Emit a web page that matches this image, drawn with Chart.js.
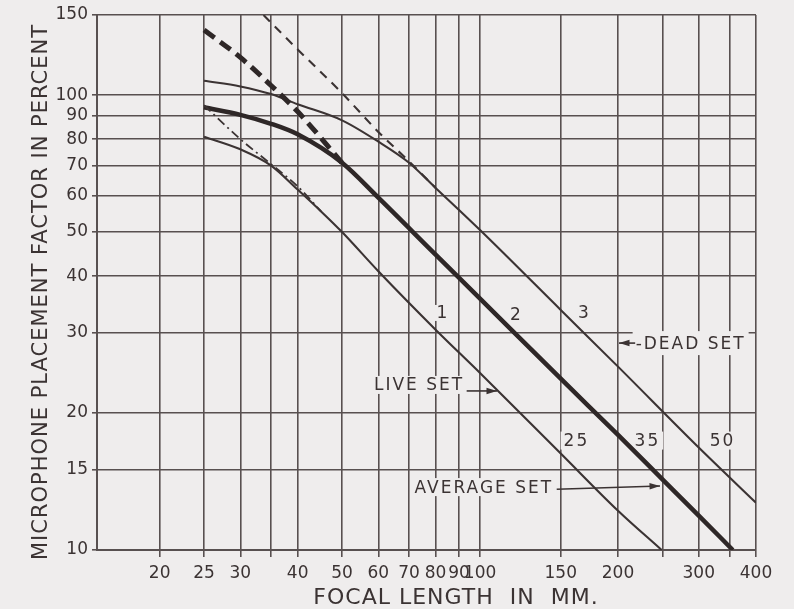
<!DOCTYPE html>
<html>
<head>
<meta charset="utf-8">
<script src="https://cdn.jsdelivr.net/npm/chart.js@4/dist/chart.umd.min.js"></script>
<style>
  html, body { margin: 0; padding: 0; background: #efeded; }
  canvas { display: block; }
</style>
</head>
<body>
<canvas id="chart" width="794" height="609"></canvas>
<script>
// grid / tick values
const xTicks = [20, 25, 30, 35, 40, 50, 60, 70, 80, 90, 100, 150, 200, 250, 300, 350, 400];
const xLabeled = [20, 25, 30, 40, 50, 60, 70, 80, 90, 100, 150, 200, 300, 400];
const yTicks = [10, 15, 20, 30, 40, 50, 60, 70, 80, 90, 100, 150];

// curve 1 - live set
const liveFocal = [25, 30, 35, 40, 45, 50, 60, 80, 100, 150, 200, 249];
const liveFactor = [81, 76, 70, 62, 55.5, 50, 41, 30.5, 24.5, 16.3, 12.2, 10];
const liveGuideFocal = [25, 30, 35, 40, 45];
const liveGuideFactor = [95, 80, 70.5, 63, 55.5];

// curve 2 - average set
const avgFocal = [25, 30, 35, 40, 50, 60, 80, 100, 150, 200, 250, 300, 356];
const avgFactor = [94, 90.5, 86.5, 82, 71, 59.5, 44.6, 35.7, 23.8, 17.9, 14.3, 11.9, 10];
const avgGuideFocal = [25, 30, 35, 40, 50];
const avgGuideFactor = [139, 121, 105, 92, 71];

// curve 3 - dead set
const deadFocal = [25, 30, 35, 40, 50, 60, 70, 80, 100, 150, 200, 300, 400];
const deadFactor = [107.5, 104.5, 100.5, 95.5, 88, 79, 71, 62.5, 50.5, 33.7, 25.3, 16.8, 12.7];
const deadGuideFocal = [33.7, 40, 50, 60, 70, 80];
const deadGuideFactor = [150, 126, 101, 83, 71.5, 62.5];

const bg = '#efeded';
const ink = '#3b3333';
const gridInk = '#585050';
const fontFam = '"DejaVu Sans", sans-serif';

function pts(xs, ys) {
  return xs.map((v, i) => ({ x: v, y: ys[i] }));
}

// text written on the sheet, anchored in data units
const notes = [
  { text: '1', at: [83, 33.2], align: 'center', size: 17, pad: [2, 8] },
  { text: '2', at: [120, 32.9], align: 'center', size: 17, pad: [2, 8] },
  { text: '3', at: [169, 33.2], align: 'center', size: 17, pad: [2, 8] },
  { text: '-DEAD SET', at: [218.5, 28.5], align: 'left', size: 17, pad: [3, 12] },
  { text: 'LIVE SET', at: [92.3, 23.06], align: 'right', size: 17, pad: [3, 9] },
  { text: 'AVERAGE SET', at: [144.4, 13.75], align: 'right', size: 17, pad: [3, 9] },
  { text: '25', at: [162.3, 17.4], align: 'center', size: 17, pad: [3, 9] },
  { text: '35', at: [231.8, 17.4], align: 'center', size: 17, pad: [3, 9] },
  { text: '50', at: [338, 17.4], align: 'center', size: 17, pad: [3, 9] }
];
// arrows: from, to (data units)
const arrows = [
  { from: [218, 28.5], to: [201, 28.5] },
  { from: [93.5, 22.37], to: [108.9, 22.37] },
  { from: [147, 13.6], to: [247, 13.83] }
];

function noteBox(c, n, xs, ys) {
  c.font = n.size + 'px ' + fontFam;
  c.letterSpacing = '2px';
  const w = c.measureText(n.text).width;
  const px = xs.getPixelForValue(n.at[0]);
  const py = ys.getPixelForValue(n.at[1]);
  let left = px - w / 2;
  if (n.align === 'left') left = px;
  if (n.align === 'right') left = px - w;
  return { left, w, px, py };
}

const sheetPlugin = {
  id: 'sheet',
  beforeDraw(chart) {
    const c = chart.ctx;
    c.save();
    c.fillStyle = bg;
    c.fillRect(0, 0, chart.width, chart.height);
    c.restore();
  },
  beforeDatasetsDraw(chart) {
    // lettering breaks the grid lines underneath
    const c = chart.ctx;
    const { x, y } = chart.scales;
    c.save();
    c.fillStyle = bg;
    notes.forEach(n => {
      const b = noteBox(c, n, x, y);
      c.fillRect(b.left - n.pad[0], b.py - n.pad[1], b.w + 2 * n.pad[0], 2 * n.pad[1]);
    });
    c.restore();
  },
  afterDraw(chart) {
    const c = chart.ctx;
    const { x, y } = chart.scales;
    c.save();
    c.fillStyle = ink;
    c.textBaseline = 'middle';
    notes.forEach(n => {
      const b = noteBox(c, n, x, y);
      c.textAlign = 'left';
      c.fillText(n.text, b.left, b.py + 1);
    });

    c.strokeStyle = ink;
    c.lineWidth = 1.6;
    arrows.forEach(a => {
      const x0 = x.getPixelForValue(a.from[0]), y0 = y.getPixelForValue(a.from[1]);
      const x1 = x.getPixelForValue(a.to[0]), y1 = y.getPixelForValue(a.to[1]);
      c.beginPath();
      c.moveTo(x0, y0);
      c.lineTo(x1, y1);
      c.stroke();
      const ang = Math.atan2(y1 - y0, x1 - x0);
      c.beginPath();
      c.moveTo(x1, y1);
      c.lineTo(x1 - 11 * Math.cos(ang - 0.3), y1 - 11 * Math.sin(ang - 0.3));
      c.lineTo(x1 - 11 * Math.cos(ang + 0.3), y1 - 11 * Math.sin(ang + 0.3));
      c.closePath();
      c.fill();
    });

    // axis titles
    c.letterSpacing = '1px';
    c.font = '22px ' + fontFam;
    c.textAlign = 'center';
    c.fillText('FOCAL LENGTH  IN  MM.', 456, 598);
    c.translate(42, 292);
    c.rotate(-Math.PI / 2);
    c.font = '21px ' + fontFam;
    c.fillText('MICROPHONE PLACEMENT FACTOR IN PERCENT', 0, 0);
    c.restore();
  }
};

const thin = { borderColor: ink, borderWidth: 2.1, pointRadius: 0, cubicInterpolationMode: 'monotone', fill: false };

new Chart(document.getElementById('chart'), {
  type: 'line',
  data: {
    datasets: [
      { ...thin, label: 'Live set', data: pts(liveFocal, liveFactor) },
      { ...thin, label: 'Live set (extension)', data: pts(liveGuideFocal, liveGuideFactor), borderDash: [9, 4, 2, 4], borderWidth: 1.8 },
      { ...thin, label: 'Average set', data: pts(avgFocal, avgFactor), borderWidth: 4.5, borderColor: '#2e2727' },
      { ...thin, label: 'Average set (extension)', data: pts(avgGuideFocal, avgGuideFactor), borderWidth: 5, borderColor: '#2e2727', borderDash: [13, 7] },
      { ...thin, label: 'Dead set', data: pts(deadFocal, deadFactor) },
      { ...thin, label: 'Dead set (extension)', data: pts(deadGuideFocal, deadGuideFactor), borderDash: [9, 7] }
    ]
  },
  options: {
    responsive: false,
    animation: false,
    devicePixelRatio: 1,
    layout: { padding: { top: 15, right: 38, left: 0, bottom: 0 } },
    plugins: { legend: { display: false }, tooltip: { enabled: false } },
    scales: {
      x: {
        type: 'logarithmic',
        min: 14.6,
        max: 400,
        afterBuildTicks: s => { s.ticks = xTicks.map(v => ({ value: v })); },
        afterFit: s => { s.height = 59; },
        ticks: {
          autoSkip: false,
          maxRotation: 0,
          padding: 6,
          color: ink,
          font: { family: fontFam, size: 17 },
          callback: v => xLabeled.includes(v) ? String(v) : ''
        },
        grid: { color: gridInk, lineWidth: 1.6, tickLength: 7 },
        border: { color: gridInk, width: 2 }
      },
      y: {
        type: 'logarithmic',
        min: 10,
        max: 150,
        afterBuildTicks: s => { s.ticks = yTicks.map(v => ({ value: v })); },
        afterFit: s => { s.width = 97; },
        ticks: {
          padding: 4,
          color: ink,
          font: { family: fontFam, size: 17 },
          callback: v => String(v)
        },
        grid: { color: gridInk, lineWidth: 1.6, tickLength: 5 },
        border: { color: gridInk, width: 2 }
      }
    }
  },
  plugins: [sheetPlugin]
});
</script>
</body>
</html>
